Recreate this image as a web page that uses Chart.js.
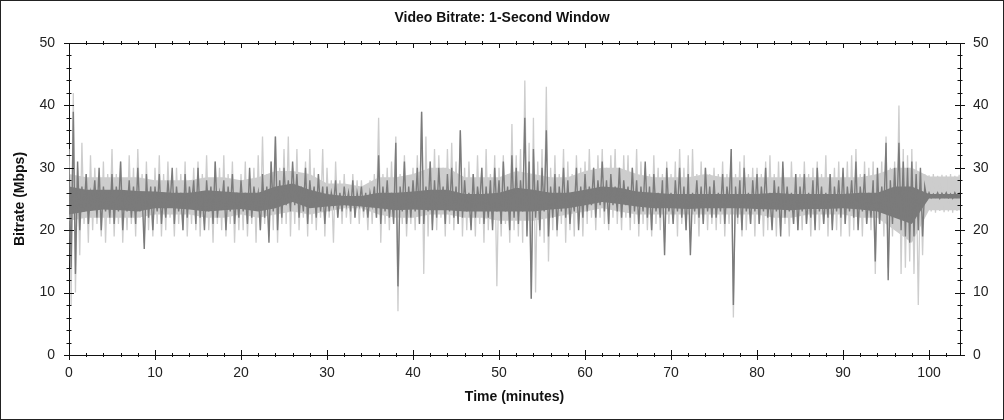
<!DOCTYPE html>
<html>
<head>
<meta charset="utf-8">
<title>Video Bitrate: 1-Second Window</title>
<script src="https://cdn.jsdelivr.net/npm/chart.js@4.4.1/dist/chart.umd.min.js"></script>
<style>
  html, body { margin: 0; padding: 0; background: #fff; }
  #chart { display: block; }
</style>
</head>
<body>
<canvas id="chart" width="1004" height="420"></canvas>
<script>
// half-minute bins: how high and how low each trace reaches inside the bin (Mbps)
const binStep = 0.5;

const darkHi = [
  30,39,31,27,29,26,28,30,27,26, 29,27,31,26,28,27,30,26,29,27,
  27,29,26,28,30,27,26,29,27,28, 30,26,28,27,31,26,28,27,29,26,
  28,26,30,27,26,29,27,31,35,28, 30,28,31,29,27,30,28,27,29,27,
  27,26,28,26,27,26,28,26,27,26, 26,27,32,27,28,26,34,27,31,27,
  28,30,39,27,31,28,30,27,29,30, 27,36,28,26,29,27,30,27,28,30,
  28,31,27,32,30,28,38,31,33,28, 30,36,27,29,27,30,28,26,30,27,
  29,27,30,28,31,28,29,27,30,28, 27,30,28,27,31,27,29,26,28,30,
  26,28,30,27,29,26,28,27,30,27, 28,26,29,27,33,27,28,30,26,28,
  29,27,30,26,28,27,31,27,26,29, 27,29,26,28,30,27,26,29,27,28,
  30,27,28,31,27,29,26,28,30,27, 34,28,30,34,31,30,31,29,30,27,
  26,25.8,26,25.9,26,25.8,26,25.9
];
const darkLo = [
  14,13,20,23,21,24,22,20,23,22, 21,23,20,23,22,21,23,17,22,20,
  23,21,22,24,21,23,20,22,24,21, 22,20,23,21,22,24,20,23,21,22,
  23,21,22,24,20,22,18,23,20,22, 24,23,24,22,23,21,24,22,23,21,
  23,24,22,23,24,23,22,24,23,22, 24,22,21,23,22,21,11,23,21,22,
  23,21,21,23,20,22,24,21,23,22, 21,22,23,20,22,24,21,22,20,23,
  21,23,20,22,21,23,19,9,22,20,  23,19,22,20,23,22,21,23,20,22,
  23,24,22,24,23,21,24,23,22,24, 22,23,21,23,22,20,23,22,16,23,
  21,23,22,20,16,23,22,21,23,22, 22,23,21,24,8,22,20,23,21,23,
  21,23,22,20,23,19,22,23,21,20, 23,21,22,20,23,21,22,20,23,22,
  21,23,22,20,23,21,22,15,21,23, 12,21,22,20,19,18,19,20,19,25,
  25.2,25.3,25.1,25.3,25.2,25.1,25.3,25.2
];
const lightHi = [
  33,42,30,34,29,32,30,28,31,29, 33,29,31,28,32,30,33,29,31,28,
  30,32,29,31,28,30,29,31,28,30, 31,29,32,28,31,30,32,29,31,28,
  29,31,28,30,32,35,29,31,35,30, 33,35,30,33,29,31,33,30,29,33,
  30,28,31,28,29,27,29,28,28,27, 28,29,38,29,30,31,35,29,32,28,
  30,32,39,35,31,33,32,30,33,34, 31,36,30,31,29,32,30,33,29,32,
  30,32,29,37,32,33,44,34,38,31, 33,43,30,32,29,33,31,29,32,30,
  31,33,30,32,33,30,32,33,30,32, 32,30,33,31,30,29,32,30,29,31,
  29,31,33,30,32,33,29,31,30,29, 30,29,31,29,33,29,31,32,29,30,
  30,29,31,32,29,31,30,28,31,29, 29,31,29,30,31,29,32,29,30,31,
  29,31,32,33,29,31,30,31,29,31, 35,30,31,40,33,32,33,31,29,29,
  28.8,29,28.7,28.9,28.8,29,28.7,28.9
];
const lightLo = [
  8,10,16,21,18,20,21,19,18,21,  19,21,18,20,21,19,22,18,20,19,
  21,19,20,22,19,21,20,19,21,20, 19,21,20,18,21,20,19,21,18,20,
  20,19,21,18,20,21,19,20,18,21, 21,19,21,20,22,19,21,20,22,19,
  22,18,22,21,22,21,22,21,22,20, 21,22,18,21,20,22,7,21,19,21,
  20,21,13,19,21,20,22,19,21,20, 21,19,20,22,19,21,18,20,21,11,
  19,21,18,20,19,18,20,9,10,19,  18,15,20,19,21,18,20,19,21,19,
  21,22,20,22,21,20,22,21,20,22, 20,21,19,21,20,19,21,20,18,21,
  21,19,21,20,18,21,19,21,20,21, 20,21,19,21,6,21,19,20,21,19,
  21,19,20,21,19,20,21,19,21,20, 20,21,19,21,20,21,19,21,20,19,
  21,19,20,21,19,21,20,13,21,19, 14,19,20,13,14,15,13,8,16,23,
  23,22.8,23.1,22.9,23,22.8,23.1,23
];

// two-minute steps: the dense middle of each trace, where the samples overlap solid
const coreStep = 2;
const darkCoreHi = [
  27,26.5,26.5,26.5,26.3,26.2,26,26,26.4,26.2, 26,26,27,27.5,26.5,25.8,25.5,25.5,26,26,
  26.2,26.5,26.5,25.8,25.8,26,26.8,26.5,26,26, 26.5,27,26.8,26.2,26,25.8,25.8,25.8,25.8,25.8,
  25.8,26,25.8,25.8,25.8,25.8,26,26,27,27, 25.8,25.8,25.8
];
const darkCoreLo = [
  22.5,23,23.3,23.2,23,23.5,23.5,23.3,23,23.2, 23.4,23,23.5,24.5,23.5,23.8,24,23.8,23.5,23.2,
  23.3,23.2,23.2,23,23,23,23,23,23.3,23.5, 24,24.5,24.2,23.8,23.5,23.5,23.4,23.5,23.5,23.5,
  23.4,23.3,23.2,23.4,23.4,23.5,23.3,23,22,21, 25.1,25.1,25.1
];
const lightCoreHi = [
  29,28.5,28.5,28.5,28.5,28,28,28,28.5,28.5, 28,28.5,29.5,29.5,29,27.5,27.5,27,28.5,28.5,
  29,30,30,28.5,28.5,28.5,29.5,29,28.5,28.5, 29.5,30,30,29,28.5,28.5,28.5,29,28.5,28.5,
  28.5,28.5,28.5,28.5,28.5,28.5,28.5,29,30,30, 28.6,28.6,28.6
];
const lightCoreLo = [
  21.5,22,22,22,22,22.5,22.5,22.5,22,22, 22.5,22,22.5,23,22.5,23,23.5,23.5,22.5,22,
  22,22.5,22.5,22,22,21.5,21.5,21.5,22,22.5, 23,23.5,23,22.5,22.5,22.5,22.5,22.5,22.5,22.5,
  22.5,22,22,22.5,22.5,22.5,22,22,20,18, 23.2,23.2,23.2
];

const xMax = 103.6;
const yMax = 50;
const font = 'Liberation Sans, Arial, sans-serif';
const darkGray = '#7b7b7b';
const lightGray = '#cdcdcd';

// each bin becomes an up stroke and a down stroke, like the dense 1-second trace
const toTrace = (hi, lo) => {
  const pts = [];
  hi.forEach((h, i) => {
    const t = i * binStep;
    pts.push({x: t, y: h});
    pts.push({x: t + binStep / 2, y: lo[i]});
  });
  return pts;
};
const toSteps = vals => vals.map((v, i) => ({x: i * coreStep, y: v}));

// axis frame, crossing tick marks and the outer border
const framePlugin = {
  id: 'frame',
  afterDraw(chart) {
    const {ctx, chartArea: a, scales} = chart;
    const xs = scales.x, ys = scales.y;
    ctx.save();
    ctx.strokeStyle = '#111';
    ctx.lineWidth = 1;
    ctx.beginPath();
    ctx.moveTo(a.left, Math.round(a.top) + 0.5);
    ctx.lineTo(a.right, Math.round(a.top) + 0.5);
    for (let v = 0; v <= yMax; v += 2) {
      const y = Math.round(ys.getPixelForValue(v)) + 0.5;
      const len = v % 10 === 0 ? 5 : 2.5;
      ctx.moveTo(a.left - len, y); ctx.lineTo(a.left + len, y);
      ctx.moveTo(a.right - len, y); ctx.lineTo(a.right + len, y);
    }
    for (let v = 0; v <= xMax; v += 2) {
      const x = Math.round(xs.getPixelForValue(v)) + 0.5;
      const major = v % 10 === 0;
      ctx.moveTo(x, a.bottom - (major ? 5 : 2)); ctx.lineTo(x, a.bottom + (major ? 5 : 2));
      ctx.moveTo(x, a.top - (major ? 0 : 2)); ctx.lineTo(x, a.top + (major ? 5 : 2));
    }
    ctx.stroke();
    ctx.strokeStyle = '#222';
    ctx.strokeRect(0.5, 0.5, chart.width - 1, chart.height - 1);
    ctx.restore();
  }
};

const bgPlugin = {
  id: 'bg',
  beforeDraw(chart) {
    const ctx = chart.ctx;
    ctx.save();
    ctx.fillStyle = '#fff';
    ctx.fillRect(0, 0, chart.width, chart.height);
    ctx.restore();
  }
};

const band = (data, color, fill, order) => ({
  data: data,
  borderWidth: 0,
  borderColor: color,
  backgroundColor: color,
  pointRadius: 0,
  fill: fill,
  order: order
});

new Chart(document.getElementById('chart'), {
  type: 'line',
  data: {
    datasets: [
      { label: 'dark', data: toTrace(darkHi, darkLo), borderColor: darkGray, borderWidth: 1.4, pointRadius: 0, fill: false, order: 0 },
      band(toSteps(darkCoreHi), darkGray, '+1', 1),
      band(toSteps(darkCoreLo), darkGray, false, 1),
      { label: 'light', data: toTrace(lightHi, lightLo), borderColor: lightGray, borderWidth: 1.3, pointRadius: 0, fill: false, order: 2 },
      band(toSteps(lightCoreHi), lightGray, '+1', 3),
      band(toSteps(lightCoreLo), lightGray, false, 3)
    ]
  },
  options: {
    responsive: false,
    animation: false,
    layout: { padding: 0 },
    plugins: {
      legend: { display: false },
      tooltip: { enabled: false },
      title: {
        display: true,
        text: 'Video Bitrate: 1-Second Window',
        color: '#111',
        font: { family: font, size: 14, weight: 'bold' },
        padding: { top: 10, bottom: 16.2 }
      }
    },
    scales: {
      x: {
        type: 'linear',
        min: 0,
        max: xMax,
        grid: { display: false, drawTicks: false },
        border: { display: true, color: '#111' },
        ticks: {
          stepSize: 10,
          includeBounds: false,
          padding: 10,
          color: '#222',
          font: { family: font, size: 14 },
          callback: v => (v % 10 === 0 ? v : '')
        },
        title: {
          display: true,
          text: 'Time (minutes)',
          color: '#111',
          font: { family: font, size: 14, weight: 'bold' },
          padding: { top: 14, bottom: 14 }
        },
        afterFit: s => { s.height = 65; }
      },
      y: {
        position: 'left',
        min: 0,
        max: yMax,
        grid: { display: false, drawTicks: false },
        border: { display: true, color: '#111' },
        ticks: {
          stepSize: 10,
          padding: 14,
          color: '#222',
          font: { family: font, size: 14 }
        },
        title: {
          display: true,
          text: 'Bitrate (Mbps)',
          color: '#111',
          font: { family: font, size: 14, weight: 'bold' },
          padding: { top: 12, bottom: 12 }
        },
        afterFit: s => { s.width = 69; }
      },
      y2: {
        position: 'right',
        min: 0,
        max: yMax,
        grid: { display: false, drawTicks: false },
        border: { display: true, color: '#111' },
        ticks: {
          stepSize: 10,
          padding: 13,
          color: '#222',
          font: { family: font, size: 14 }
        },
        afterFit: s => { s.width = 44; }
      }
    }
  },
  plugins: [bgPlugin, framePlugin]
});
</script>
</body>
</html>
